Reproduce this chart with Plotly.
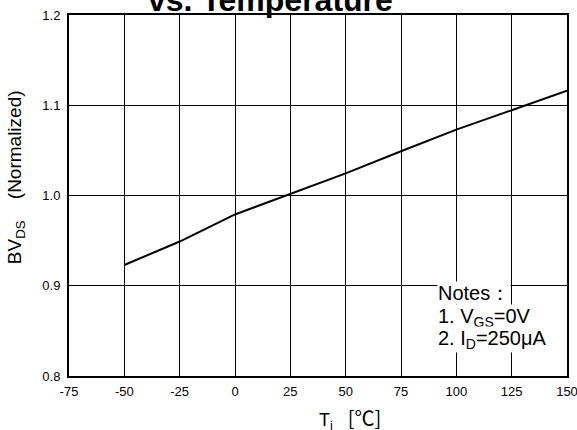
import plotly.graph_objects as go

# Data
temps = [-50, -25, 0, 25, 50, 75, 100, 125, 150]
bvds_norm = [0.923, 0.949, 0.979, 1.002, 1.0245, 1.049, 1.073, 1.0945, 1.116]

x_ticks = [-75, -50, -25, 0, 25, 50, 75, 100, 125, 150]
y_ticks = [0.8, 0.9, 1.0, 1.1, 1.2]

title_text = "vs. Temperature"
y_title = "BV<sub>DS</sub>&nbsp;&nbsp;&nbsp;&nbsp;(Normalized)"
x_title = ("T<sub>j</sub>&nbsp;&nbsp;&nbsp;<span style=\"font-family:'Noto Sans CJK SC';"
           "font-size:20px\">[℃]</span>")
notes = ["Notes：", "1. V<sub>GS</sub>=0V", "2. I<sub>D</sub>=250μA"]
notes_y = [0.892, 0.865, 0.840]

FONT = "Arial, 'Liberation Sans', sans-serif"

fig = go.Figure()
fig.add_trace(go.Scatter(x=temps, y=bvds_norm, mode="lines",
                         line=dict(color="black", width=2), showlegend=False))

axis_common = dict(showgrid=True, gridcolor="black", gridwidth=1.3,
                   showline=True, linecolor="black", linewidth=2, mirror=True,
                   zeroline=False, ticks="", automargin=False,
                   ticklabeloverflow="allow",
                   tickfont=dict(family=FONT, size=13, color="black"))

fig.update_xaxes(range=[-75, 150], tickvals=x_ticks, ticktext=[str(v) for v in x_ticks],
                 ticklabelstandoff=2, **axis_common)
fig.update_yaxes(range=[0.8, 1.2], tickvals=y_ticks, ticktext=[f"{v:.1f}" for v in y_ticks],
                 ticklabelstandoff=4, **axis_common)

annotations = [
    dict(text=f"<b>{title_text}</b>", xref="paper", yref="paper", x=0.405, y=1,
         xanchor="center", yanchor="bottom", yshift=-5, showarrow=False,
         font=dict(family=FONT, size=32, color="black")),
    dict(text=y_title, xref="paper", yref="paper", x=-0.105, y=0.55, textangle=-90,
         xanchor="center", yanchor="middle", showarrow=False,
         font=dict(family=FONT, size=19, color="black")),
    dict(text=x_title, xref="paper", yref="paper", x=0.565, y=-0.068,
         xanchor="center", yanchor="top", showarrow=False,
         font=dict(family=FONT, size=18, color="black")),
]
for t, yy in zip(notes, notes_y):
    annotations.append(dict(text=t, xref="x", yref="y", x=91.3, y=yy,
                            xanchor="left", yanchor="middle", showarrow=False,
                            bgcolor="white", borderpad=0,
                            font=dict(family=FONT, size=20, color="black")))

fig.update_layout(width=577, height=430, autosize=False,
                  margin=dict(l=69, r=10, t=15, b=54, autoexpand=False),
                  paper_bgcolor="white", plot_bgcolor="white",
                  annotations=annotations)

fig.write_html("out.html", config={"displayModeBar": False, "responsive": False},
               post_script="document.body.style.margin='0';")
